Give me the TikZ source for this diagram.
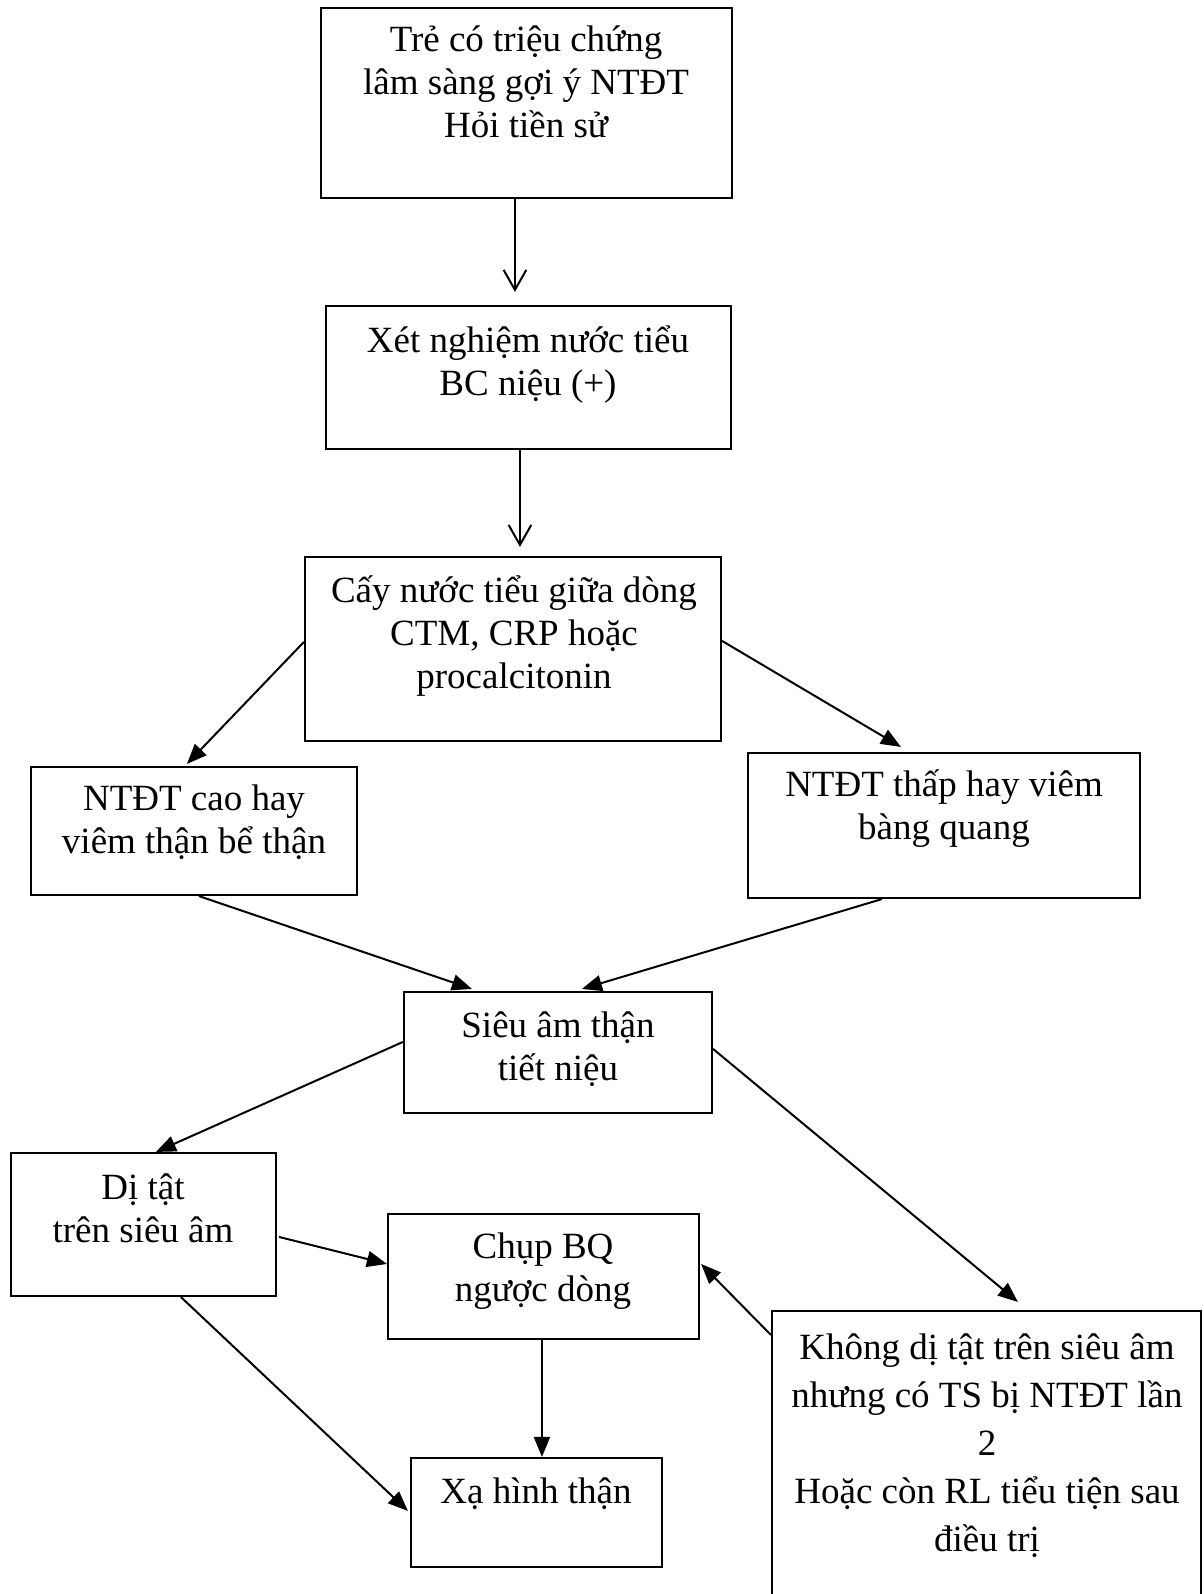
\documentclass[tikz,border=0pt]{standalone}
\usepackage{fontspec}
\setmainfont{Liberation Serif}
\usetikzlibrary{arrows.meta,calc,fit}
\begin{document}
\begin{tikzpicture}[x=0.75pt,y=-0.75pt,
  box/.style={draw, line width=1.6pt, inner sep=0pt},
  txt/.style={align=center, inner sep=0pt, anchor=base, font=\fontsize{27.75pt}{32.25pt}\selectfont},
  txtw/.style={txt, font=\fontsize{27.75pt}{36pt}\selectfont},
  conn/.style={line width=1.5pt, -{Triangle[length=15pt,width=12pt]}},
  barb/.style={line width=1.5pt, -{Straight Barb[length=15pt,width=17pt,line width=1.5pt]}}]
\useasboundingbox (0,0) rectangle (1203,1594);
\fill[white] (0,0) rectangle (1203,1594);
% boxes
\node[box, fit={(321,8) (732,198)}] (b1) {};
\node[box, fit={(326,306) (731,449)}] (b2) {};
\node[box, fit={(305,557) (721,741)}] (b3) {};
\node[box, fit={(31,767) (357,895)}] (b4) {};
\node[box, fit={(748,753) (1140,898)}] (b5) {};
\node[box, fit={(404,992) (712,1113)}] (b6) {};
\node[box, fit={(11,1153) (276,1296)}] (b7) {};
\node[box, fit={(388,1214) (699,1339)}] (b8) {};
\node[box, fit={(411,1458) (662,1567)}] (b9) {};
\node[box, fit={(772,1311) (1201,1604)}] (b10) {};
% texts (anchored at the baseline of the last line)
\node[txt] (t1) at (526,138) {Trẻ có triệu chứng\\lâm sàng gợi ý NTĐT\\Hỏi tiền sử};
\node[txt] (t2) at (528,395) {Xét nghiệm nước tiểu\\BC niệu (+)};
\node[txt] (t3) at (514,688) {Cấy nước tiểu giữa dòng\\CTM, CRP hoặc\\procalcitonin};
\node[txt] (t4) at (194,853) {NTĐT cao hay\\viêm thận bể thận};
\node[txt] (t5) at (944,839) {NTĐT thấp hay viêm\\bàng quang};
\node[txt] (t6) at (558,1080) {Siêu âm thận\\tiết niệu};
\node[txt] (t7) at (143,1242) {Dị tật\\trên siêu âm};
\node[txt] (t8) at (543,1301) {Chụp BQ\\ngược dòng};
\node[txt] (t9) at (536,1503) {Xạ hình thận};
\node[txtw] (t10) at (987,1551) {Không dị tật trên siêu âm\\nhưng có TS bị NTĐT lần\\2\\Hoặc còn RL tiểu tiện sau\\điều trị};
% connectors
\draw[barb] ($(b1.south west)+(195,0)$) -- ($(b2.north west)+(190,-13)$);
\draw[barb] ($(b2.south west)+(195,0)$) -- ($(b3.north west)+(216,-9)$);
\draw[conn] ($(b3.north west)+(0,86)$) -- ($(b4.north west)+(157,-2)$);
\draw[conn] ($(b3.north east)+(0,85)$) -- ($(b5.north west)+(154,-5)$);
\draw[conn] ($(b4.south west)+(169,0)$) -- ($(b6.north west)+(69,-2)$);
\draw[conn] ($(b5.south west)+(135,0)$) -- ($(b6.north west)+(179,-2)$);
\draw[conn] ($(b6.north west)+(0,51)$) -- ($(b7.north west)+(146,0)$);
\draw[conn] ($(b6.north east)+(0,58)$) -- ($(b10.north west)+(247,-8)$);
\draw[conn] ($(b7.north east)+(2,85)$) -- ($(b8.north west)+(0,51)$);
\draw[conn] ($(b7.south west)+(171,0)$) -- ($(b9.north west)+(-2,54)$);
\draw[conn] ($(b8.south west)+(155,0)$) -- ($(b9.north west)+(132,0)$);
\draw[conn] ($(b10.north west)+(0,25)$) -- ($(b8.north east)+(1,51)$);
\end{tikzpicture}
\end{document}
